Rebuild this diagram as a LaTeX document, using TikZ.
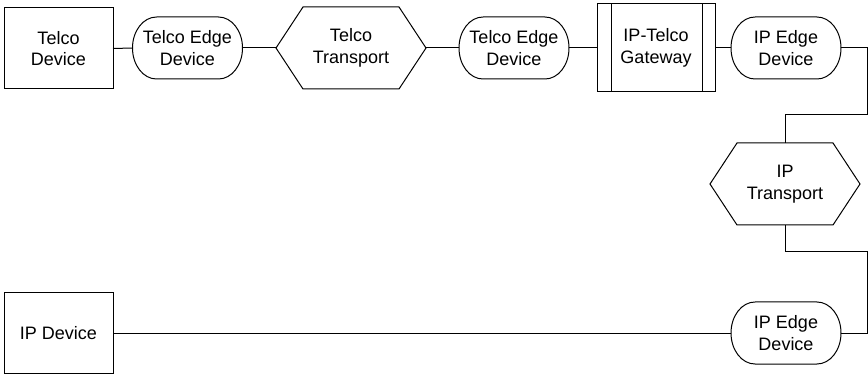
\documentclass[tikz,border=0pt]{standalone}
\usepackage{fontspec}
\setmainfont{Liberation Sans}
\usetikzlibrary{calc}

\tikzset{
  every node/.style={inner sep=0pt, outer sep=0pt, align=center,
    font=\fontsize{18}{21.5}\selectfont},
  devbox/.style={draw, rectangle, minimum width=109pt, minimum height=81pt},
  edgebox/.style={rectangle, minimum width=110pt, minimum height=62pt},
  hexbox/.style={rectangle, minimum width=150pt, minimum height=82pt},
  gatebox/.style={draw, rectangle, minimum width=118pt, minimum height=88pt},
  wire/.style={draw, line width=1pt},
}

\begin{document}
\begin{tikzpicture}[x=1pt, y=-1pt, line width=1pt]
\useasboundingbox (0,0) rectangle (868,374);

% top row
\node[devbox]  (td)  at (58.5,48.5) {Telco\\Device};
\node[edgebox] (te1) at (187.5,48)  {Telco Edge\\Device};
\node[hexbox]  (tt)  at (351,48)    {Telco\\Transport};
\node[edgebox] (te2) at (514,48)    {Telco Edge\\Device};
\node[gatebox] (gw)  at (656,48)    {IP-Telco\\Gateway};
\node[edgebox] (ie1) at (786,48)    {IP Edge\\Device};

% right column and bottom row
\node[hexbox]  (it)  at (785,184)   {IP\\Transport};
\node[edgebox] (ie2) at (786,333)   {IP Edge\\Device};
\node[devbox]  (ipd) at (58.5,333)  {IP Device};

% hexagon outlines
\foreach \h in {tt,it}{
  \draw ($(\h.north west)+(27,0)$) -- ($(\h.north east)+(-27,0)$) -- (\h.east)
        -- ($(\h.south east)+(-27,0)$) -- ($(\h.south west)+(27,0)$) -- (\h.west) -- cycle;
}

% terminal outlines: straight top and bottom, elliptical ends
\foreach \e in {te1,te2,ie1,ie2}{
  \draw ($(\e.north west)+(24,0)$) -- ($(\e.north east)+(-24,0)$)
        arc[start angle=-90, end angle=90, x radius=24, y radius=31]
        -- ($(\e.south west)+(24,0)$)
        arc[start angle=90, end angle=270, x radius=24, y radius=31];
}

% gateway side bars
\draw ($(gw.north west)+(14,0)$) -- ($(gw.south west)+(14,0)$);
\draw ($(gw.north east)+(-13,0)$) -- ($(gw.south east)+(-13,0)$);

% connectors
\coordinate (r1) at (867,115);
\coordinate (r2) at (867,252);
\draw[wire] (td.east) -- (te1.west);
\draw[wire] (te1.east) -- (tt.west);
\draw[wire] (tt.east) -- (te2.west);
\draw[wire] (te2.east) -- (gw.west);
\draw[wire] (gw.east) -- (ie1.west);
\draw[wire] (ie1.east) -| (r1) -| (it.north);
\draw[wire] (it.south) |- (r2) |- (ie2.east);
\draw[wire] (ie2.west) -- (ipd.east);
\end{tikzpicture}
\end{document}
